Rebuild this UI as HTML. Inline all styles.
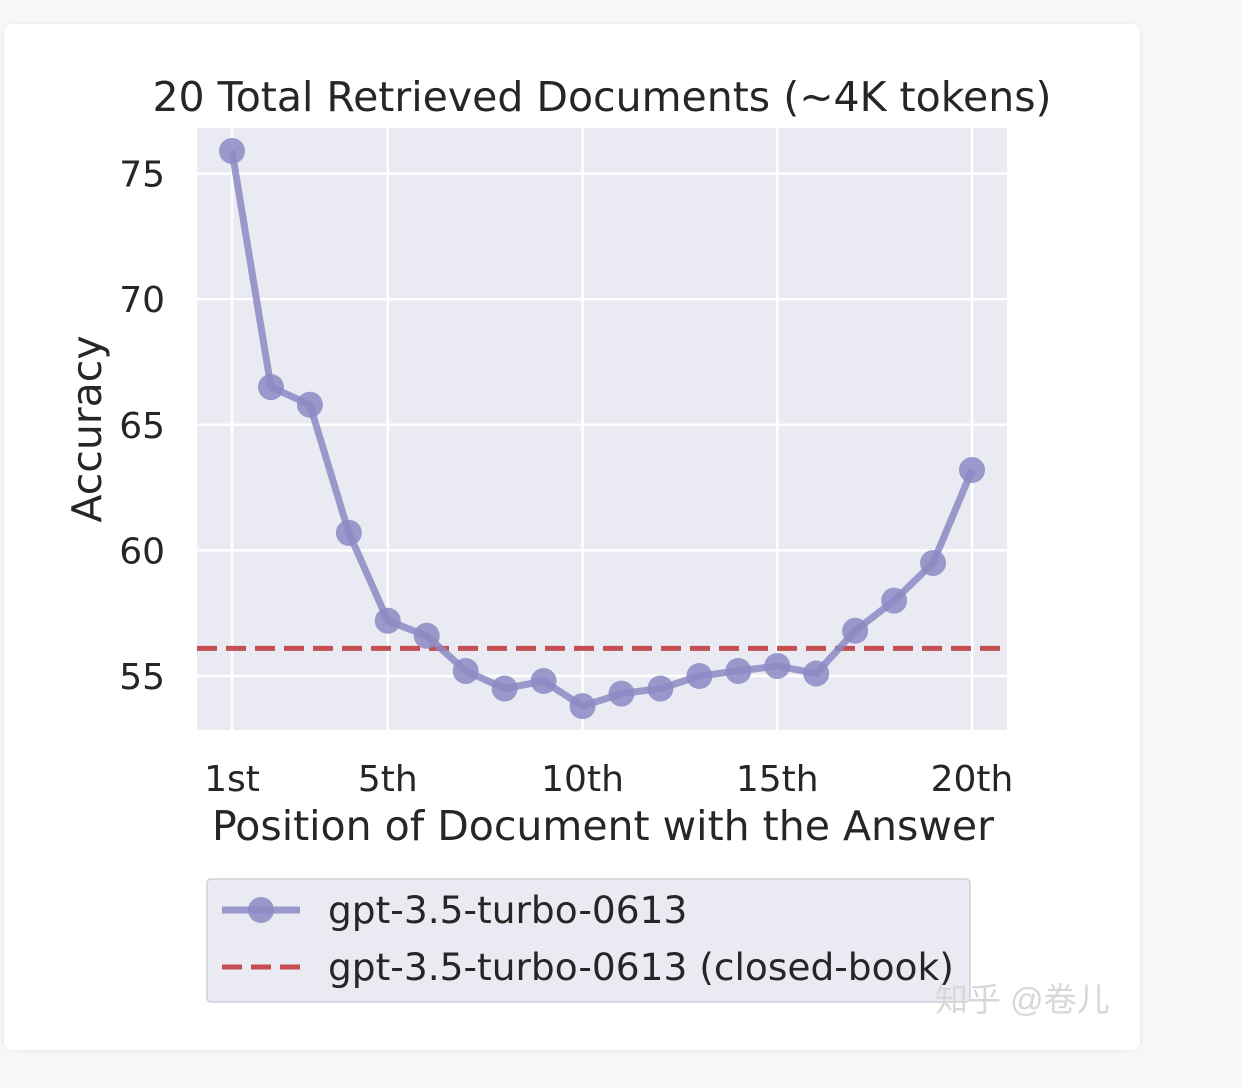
<!DOCTYPE html>
<html><head><meta charset="utf-8"><style>
html,body{margin:0;padding:0;background:#f7f7f8;}
body{width:1242px;height:1088px;position:relative;overflow:hidden;font-family:"DejaVu Sans","Liberation Sans",sans-serif;}
#card{position:absolute;left:4px;top:24px;width:1136px;height:1026px;background:#fff;border-radius:8px;box-shadow:0 0 6px rgba(0,0,0,0.08);}
svg{position:absolute;left:0;top:0;}
</style></head><body>
<div id="card"></div>
<svg id="chart" width="1242" height="1088"></svg>
<script>
const positions=[1,2,3,4,5,6,7,8,9,10,11,12,13,14,15,16,17,18,19,20];
const accuracy=[75.9,66.5,65.8,60.7,57.2,56.6,55.2,54.5,54.8,53.8,54.3,54.5,55.0,55.2,55.4,55.1,56.8,58.0,59.5,63.2];
const closedBook=[56.1];
const xTicks=[1,5,10,15,20];
const xTickLabels=["1st","5th","10th","15th","20th"];
const yTicks=[55,60,65,70,75];
const NS="http://www.w3.org/2000/svg";
const svg=document.getElementById('chart');
const PL=197,PR=1007,PT=128,PB=730;
function x(p){return 232+(p-1)*(972-232)/19;}
function y(v){return 676-(v-55)*25.12;}
function mk(t,a,parent){const e=document.createElementNS(NS,t);for(const k in a)e.setAttribute(k,a[k]);(parent||svg).appendChild(e);return e;}
let bg=mk('rect',{x:PL,y:PT,width:PR-PL,height:PB-PT,fill:'#eaeaf2'});


xTicks.forEach((t,i)=>{
  const g=mk('line',{x1:x(t),x2:x(t),y1:PT,y2:PB,stroke:'#fff','stroke-width':2.5});
  
  
  const l=mk('text',{x:x(t),y:791,'text-anchor':'middle','font-size':36,fill:'#262626'});
  l.textContent=xTickLabels[i];
  
  
});
yTicks.forEach(t=>{
  const g=mk('line',{x1:PL,x2:PR,y1:y(t),y2:y(t),stroke:'#fff','stroke-width':2.5});
  
  
  const l=mk('text',{x:165,y:y(t)+13,'text-anchor':'end','font-size':36,fill:'#262626'});
  l.textContent=t;
  
  
});
const cb=mk('line',{x1:PL,x2:PR,y1:y(closedBook[0]),y2:y(closedBook[0]),stroke:'#c44e52','stroke-width':5,'stroke-dasharray':'20 9'});


const pl=mk('polyline',{points:positions.map((p,i)=>x(p)+','+y(accuracy[i])).join(' '),fill:'none',stroke:'#8c88c4','stroke-width':7,'stroke-opacity':0.85,'stroke-linejoin':'round'});


positions.forEach((p,i)=>{
  const c=mk('circle',{cx:x(p),cy:y(accuracy[i]),r:13,fill:'#8c88c4','fill-opacity':0.85});
  
  
});
const title=mk('text',{x:602,y:111,'text-anchor':'middle','font-size':41,fill:'#262626'});
title.textContent='20 Total Retrieved Documents (~4K tokens)';


const xt=mk('text',{x:603,y:840,'text-anchor':'middle','font-size':41,fill:'#262626'});
xt.textContent='Position of Document with the Answer';


const yt=mk('text',{x:101,y:429,'text-anchor':'middle','font-size':41,fill:'#262626',transform:'rotate(-90 101 429)'});
yt.textContent='Accuracy';


const lg=mk('rect',{x:207,y:879,width:763,height:123,rx:4,fill:'#eaeaf2',stroke:'#cfcfd8','stroke-width':1.5});


const l1=mk('line',{x1:222,x2:300,y1:910,y2:910,stroke:'#8c88c4','stroke-width':7,'stroke-opacity':0.85});


const l1c=mk('circle',{cx:261,cy:910,r:13,fill:'#8c88c4','fill-opacity':0.85});


const t1=mk('text',{x:328,y:923,'font-size':37.5,fill:'#262626'});
t1.textContent='gpt-3.5-turbo-0613';


const l2=mk('line',{x1:222,x2:300,y1:967,y2:967,stroke:'#c44e52','stroke-width':5,'stroke-dasharray':'20 9'});


const t2=mk('text',{x:328,y:980,'font-size':37.5,fill:'#262626'});
t2.textContent='gpt-3.5-turbo-0613 (closed-book)';


const wm=mk('text',{x:935,y:1011,'font-size':33,fill:'#d8d8d8','font-family':'"Liberation Sans","Noto Sans CJK SC",sans-serif'});
wm.textContent='知乎 @卷儿';


</script>
</body></html>
